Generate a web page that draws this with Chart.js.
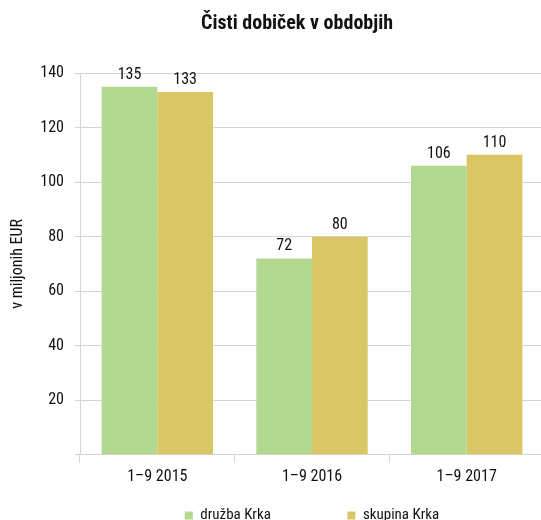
<!DOCTYPE html>
<html>
<head>
<meta charset="utf-8">
<script src="https://cdn.jsdelivr.net/npm/chart.js@4"></script>
<style>
html,body{margin:0;padding:0;background:#fff;}
#wrap{width:541px;height:520px;overflow:hidden;position:relative;}
canvas{display:block;}
</style>
</head>
<body>
<div id="wrap"><canvas id="c" width="544" height="533"></canvas></div>
<script>
const categories = ['1–9 2015', '1–9 2016', '1–9 2017'];
const druzbaKrka = [135, 72, 106];
const skupinaKrka = [133, 80, 110];
const seriesNames = ['družba Krka', 'skupina Krka'];
const yTicks = [0, 20, 40, 60, 80, 100, 120, 140];
const titleText = 'Čisti dobiček v obdobjih';
const yTitle = 'v miljonih EUR';

const FONT = '"Roboto Condensed", "Liberation Sans Narrow", "Liberation Sans", sans-serif';
const GREEN = '#b3d88f';
const GOLD = '#d9c664';
const GRID = '#d4d4d4';

const valueLabels = {
  id: 'valueLabels',
  afterDatasetsDraw(chart) {
    const ctx = chart.ctx;
    ctx.save();
    ctx.font = '16px ' + FONT;
    ctx.fillStyle = '#111';
    ctx.textAlign = 'center';
    ctx.textBaseline = 'bottom';
    chart.data.datasets.forEach((ds, i) => {
      chart.getDatasetMeta(i).data.forEach((bar, j) => {
        ctx.fillText(String(ds.data[j]), bar.x, bar.y - 4);
      });
    });
    ctx.restore();
  }
};

const shiftTitle = {
  id: 'shiftTitle',
  afterLayout(chart) {
    const t = chart.titleBlock;
    if (t) { t.left = 50; t.right = 544; }
  }
};

const LEGEND_STEP = 162;
const LEGEND_PAD = 18;
const LEGEND_BOX = 8;
const LEGEND_FONT = 15;

new Chart(document.getElementById('c'), {
  type: 'bar',
  data: {
    labels: categories,
    datasets: [
      { label: seriesNames[0], data: druzbaKrka, backgroundColor: GREEN, categoryPercentage: 0.72, barPercentage: 1 },
      { label: seriesNames[1], data: skupinaKrka, backgroundColor: GOLD, categoryPercentage: 0.72, barPercentage: 1 }
    ]
  },
  options: {
    responsive: false,
    animation: false,
    devicePixelRatio: 1,
    layout: { padding: 0 },
    plugins: {
      title: {
        display: true,
        text: titleText,
        color: '#111',
        font: { family: FONT, size: 20, weight: 'bold' },
        padding: { top: 12, bottom: 37 }
      },
      legend: {
        position: 'bottom',
        fullSize: false,
        labels: {
          boxWidth: LEGEND_BOX,
          boxHeight: LEGEND_BOX,
          padding: LEGEND_PAD,
          color: '#111',
          font: { family: FONT, size: LEGEND_FONT },
          generateLabels(chart) {
            const items = Chart.defaults.plugins.legend.labels.generateLabels(chart);
            const ctx = chart.ctx;
            ctx.save();
            ctx.font = LEGEND_FONT + 'px ' + FONT;
            const sw = ctx.measureText(' ').width;
            const w = ctx.measureText(items[0].text).width;
            const need = LEGEND_STEP - LEGEND_PAD - LEGEND_BOX - LEGEND_FONT / 2 - w;
            ctx.restore();
            if (need > 0) items[0].text = items[0].text + ' '.repeat(Math.round(need / sw));
            items.forEach(it => { it.lineWidth = 0; it.strokeStyle = 'rgba(0,0,0,0)'; });
            return items;
          }
        }
      },
      tooltip: { enabled: false }
    },
    scales: {
      x: {
        grid: { offset: true, drawOnChartArea: false, drawTicks: true, tickLength: 8, color: GRID },
        border: { display: true, color: GRID },
        ticks: { color: '#111', font: { family: FONT, size: 16 }, padding: 5 },
        afterFit(scale) { scale.height = 35.2; }
      },
      y: {
        min: 0,
        max: 140,
        afterBuildTicks(scale) { scale.ticks = yTicks.map(v => ({ value: v })); },
        grid: { color: GRID, drawTicks: true, tickLength: 5 },
        border: { display: true, color: GRID },
        ticks: {
          color: '#111',
          font: { family: FONT, size: 16 },
          padding: 11,
          callback: v => (v === 0 ? '' : String(v))
        },
        title: {
          display: true,
          text: yTitle,
          color: '#111',
          font: { family: FONT, size: 16 },
          padding: { top: 8, bottom: 0 }
        },
        afterFit(scale) { scale.width = 80; }
      }
    }
  },
  plugins: [valueLabels, shiftTitle]
});
</script>
</body>
</html>
